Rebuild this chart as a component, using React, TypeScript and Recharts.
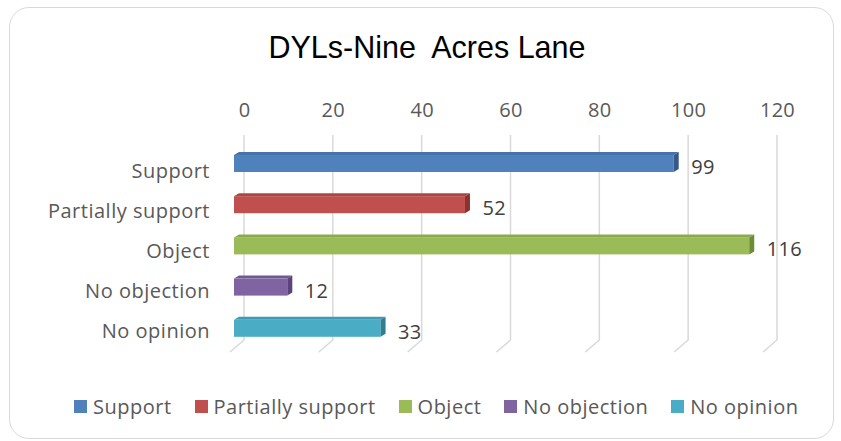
import React from 'react';
import { BarChart, Bar, XAxis, YAxis, CartesianGrid, LabelList } from 'recharts';

const title = 'DYLs-Nine  Acres Lane';
const categories = ['Support', 'Partially support', 'Object', 'No objection', 'No opinion'];
const values = [99, 52, 116, 12, 33];
const xTicks = [0, 20, 40, 60, 80, 100, 120];
const colors = ['#4F81BD', '#C0504D', '#9BBB59', '#8064A2', '#4BACC6'];
const sideColors = ['#36598A', '#8A3230', '#6E8B38', '#5B447A', '#2F7E92'];
const topColors = ['#4573AD', '#AD4643', '#8AAA4C', '#725893', '#409AB3'];

const data = categories.map((name, i) => ({ name, value: values[i] }));

const FONT = '"Open Sans", sans-serif';
const LABEL_COLOR = '#595959';
const FS = 20;

const Bar3D = (props: any) => {
  const { x, y, width, height, payload } = props;
  const i = categories.indexOf(payload.name);
  const d = 5;
  const t = 3;
  return (
    <g>
      <rect x={x} y={y + t} width={width} height={height - t} fill={colors[i]} />
      <polygon
        points={`${x},${y + t} ${x + d},${y} ${x + width + d},${y} ${x + width},${y + t}`}
        fill={topColors[i]}
      />
      <polygon
        points={`${x + width},${y + t} ${x + width + d},${y} ${x + width + d},${y + height - t} ${x + width},${y + height}`}
        fill={sideColors[i]}
      />
    </g>
  );
};

const XTick = (props: any) => {
  const { x, y, payload } = props;
  return (
    <text x={x + 10.5} y={y} textAnchor="middle" fill={LABEL_COLOR} fontFamily={FONT} fontSize={FS} letterSpacing={0.3}>
      {payload.value}
    </text>
  );
};

const YTick = (props: any) => {
  const { x, y, payload } = props;
  const idx = categories.indexOf(payload.value);
  return (
    <text
      x={x}
      y={y + 8.6 - idx * 1.1}
      textAnchor="end"
      dominantBaseline="central"
      fill={LABEL_COLOR}
      fontFamily={FONT}
      fontSize={FS}
      letterSpacing={0.5}
    >
      {payload.value}
    </text>
  );
};

const ValueLabel = (props: any) => {
  const { x, y, width, height, value } = props;
  return (
    <text
      x={x + width + 17.5}
      y={y + height / 2 + 4.5}
      dominantBaseline="central"
      fill="#404040"
      fontFamily={FONT}
      fontSize={FS}
      letterSpacing={0.3}
    >
      {value}
    </text>
  );
};

const gridLine = (props: any) => {
  const { x1, y1, y2, key } = props;
  return (
    <path
      key={key}
      d={`M${x1 + 10},${y1 - 6} L${x1 + 10},${y2 - 7} L${x1 - 4},${y2 + 5}`}
      stroke="#d9d9d9"
      strokeWidth={1.5}
      fill="none"
    />
  );
};

export default function App() {
  return (
    <div style={{ position: 'absolute', left: 0, top: 0, width: 841, height: 441, background: '#fff' }}>
      <div
        style={{
          position: 'absolute',
          left: 9,
          top: 7,
          width: 823,
          height: 430,
          border: '1.5px solid #d9d9d9',
          borderRadius: 20,
        }}
      />
      <div
        style={{
          position: 'absolute',
          left: 13,
          top: 32,
          width: 828,
          textAlign: 'center',
          fontFamily: '"Liberation Sans", Arial, sans-serif',
          fontSize: 30.5,
          lineHeight: '30px',
          color: '#000',
          whiteSpace: 'pre',
        }}
      >
        {title}
      </div>
      <div style={{ position: 'absolute', left: 0, top: 0 }}>
        <BarChart
          width={841}
          height={441}
          data={data}
          layout="vertical"
          margin={{ top: 100, right: 74, bottom: 94, left: 34 }}
        >
          <CartesianGrid horizontal={false} vertical={gridLine} />
          <XAxis
            type="number"
            orientation="top"
            domain={[0, 120]}
            ticks={xTicks}
            axisLine={false}
            tickLine={false}
            height={41}
            tickMargin={18}
            tick={<XTick />}
            interval={0}
          />
          <YAxis
            type="category"
            dataKey="name"
            width={200}
            axisLine={false}
            tickLine={false}
            tickMargin={18}
            tick={<YTick />}
            interval={0}
          />
          <Bar dataKey="value" barSize={20} isAnimationActive={false} shape={<Bar3D />}>
            <LabelList dataKey="value" content={<ValueLabel />} />
          </Bar>
        </BarChart>
      </div>
      <div
        style={{
          position: 'absolute',
          left: 74,
          top: 393,
          display: 'flex',
          alignItems: 'center',
          fontFamily: FONT,
          fontSize: FS,
          letterSpacing: 0.5,
          color: LABEL_COLOR,
          whiteSpace: 'nowrap',
        }}
      >
        {categories.map((c, i) => (
          <div key={c} style={{ display: 'flex', alignItems: 'center', marginRight: 23 }}>
            <div style={{ width: 13, height: 13, background: colors[i], marginRight: 6 }} />
            <span>{c}</span>
          </div>
        ))}
      </div>
    </div>
  );
}
